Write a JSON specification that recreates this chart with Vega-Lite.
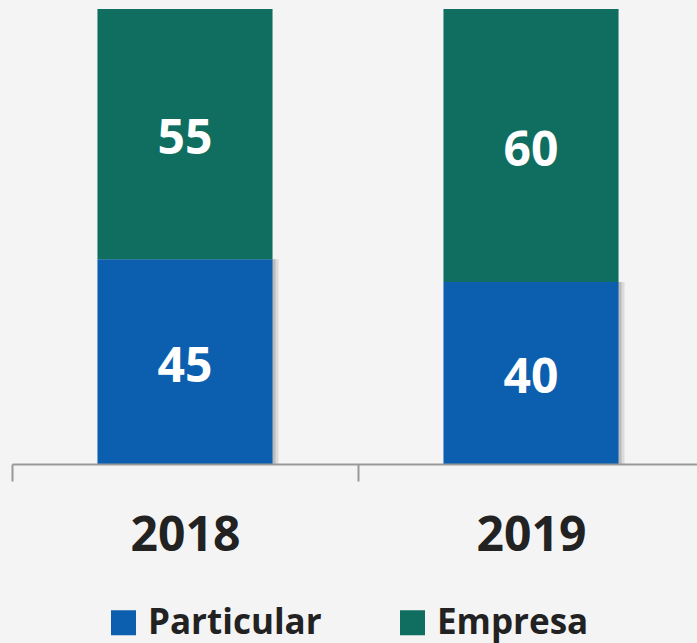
{
  "$schema": "https://vega.github.io/schema/vega-lite/v6.json",
  "width": 692,
  "height": 455,
  "autosize": {"type": "none"},
  "padding": {"left": 12, "top": 9, "right": 0, "bottom": 179},
  "background": "#f4f4f4",
  "config": {"view": {"stroke": null}, "font": "Open Sans"},
  "data": {
    "values": [
      {"anio": "2018", "tipo": "Particular", "valor": 45},
      {"anio": "2018", "tipo": "Empresa", "valor": 55},
      {"anio": "2019", "tipo": "Particular", "valor": 40},
      {"anio": "2019", "tipo": "Empresa", "valor": 60}
    ]
  },
  "encoding": {
    "x": {
      "field": "anio",
      "type": "nominal",
      "scale": {"paddingInner": 0, "paddingOuter": 0},
      "axis": {
        "title": null,
        "labelAngle": 0,
        "labelFont": "Open Sans",
        "labelFontSize": 48,
        "labelFontWeight": "bold",
        "labelColor": "#222222",
        "labelPadding": 31,
        "tickBand": "extent",
        "tickSize": 17,
        "tickColor": "#999999",
        "tickWidth": 2,
        "domainColor": "#999999",
        "domainWidth": 2,
        "zindex": 1
      }
    }
  },
  "layer": [
    {
      "transform": [{"filter": "datum.tipo === 'Particular'"}],
      "mark": {"type": "bar", "width": {"band": 0.506}, "color": "#000000", "opacity": 0.1, "xOffset": 6},
      "encoding": {
        "y": {"field": "valor", "type": "quantitative", "scale": {"domain": [0, 100], "nice": false}, "axis": null}
      }
    },
    {
      "transform": [{"filter": "datum.tipo === 'Particular'"}],
      "mark": {"type": "bar", "width": {"band": 0.506}, "color": "#000000", "opacity": 0.14, "xOffset": 3},
      "encoding": {
        "y": {"field": "valor", "type": "quantitative", "scale": {"domain": [0, 100], "nice": false}, "axis": null}
      }
    },
    {
      "mark": {"type": "bar", "width": {"band": 0.506}},
      "encoding": {
        "y": {
          "field": "valor",
          "type": "quantitative",
          "stack": "zero",
          "scale": {"domain": [0, 100], "nice": false},
          "axis": null
        },
        "color": {
          "field": "tipo",
          "type": "nominal",
          "scale": {"domain": ["Particular", "Empresa"], "range": ["#0c5eae", "#0f6e60"]},
          "legend": {
            "title": null,
            "orient": "none",
            "legendX": 94,
            "legendY": 596,
            "direction": "horizontal",
            "symbolType": "square",
            "symbolSize": 625,
            "symbolStrokeWidth": 0,
            "symbolOpacity": 1,
            "labelFont": "Open Sans",
            "labelFontSize": 35,
            "labelFontWeight": "bold",
            "labelColor": "#222222",
            "labelLimit": 0,
            "labelOffset": 7,
            "columnPadding": 73,
            "padding": 0
          }
        },
        "order": {"field": "tipo", "sort": "descending"}
      }
    },
    {
      "mark": {"type": "text", "color": "white", "fontSize": 48, "fontWeight": "bold", "baseline": "middle", "dy": 6},
      "encoding": {
        "y": {"field": "valor", "type": "quantitative", "stack": "zero", "bandPosition": 0.5},
        "text": {"field": "valor", "type": "quantitative"},
        "detail": {"field": "tipo"},
        "order": {"field": "tipo", "sort": "descending"}
      }
    }
  ]
}
